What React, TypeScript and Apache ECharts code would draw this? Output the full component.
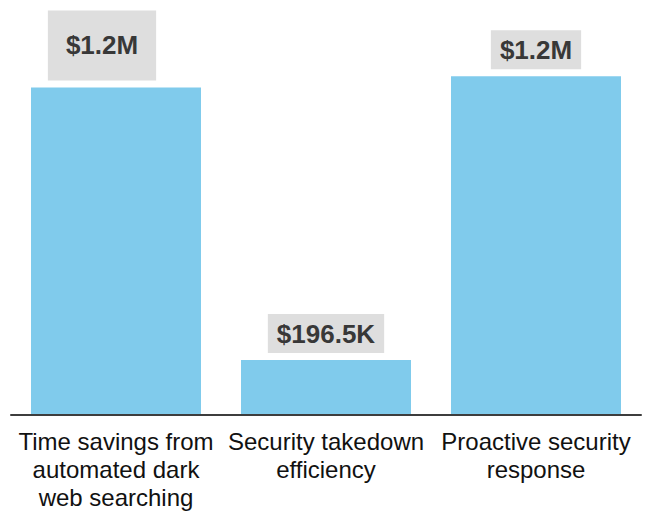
import React, { useEffect, useRef } from "react";
import * as echarts from "echarts";

const categories = [
  "Time savings from\nautomated dark\nweb searching",
  "Security takedown\nefficiency",
  "Proactive security\nresponse",
];
const values = [1170000, 196500, 1210000];
const valueLabels = ["$1.2M", "$196.5K", "$1.2M"];

const FONT = "'Liberation Sans', Arial, Helvetica, sans-serif";

export default function App() {
  const ref = useRef<HTMLDivElement>(null);
  useEffect(() => {
    if (!ref.current) return;
    const chart = echarts.init(ref.current, undefined, { renderer: "svg" });
    const data = values.map((v, i) => {
      const item: any = { value: v };
      if (i === 0) {
        item.label = { padding: [22, 18, 22, 18], offset: [-14, 0] };
      }
      return item;
    });
    chart.setOption({
      animation: false,
      backgroundColor: "#ffffff",
      grid: { left: 11, right: 8, top: 23, bottom: 97, containLabel: false },
      xAxis: {
        type: "category",
        data: categories,
        z: 10,
        axisLine: { show: true, lineStyle: { color: "#3d3d3d", width: 2 } },
        axisTick: { show: false },
        axisLabel: {
          interval: 0,
          margin: 12,
          color: "#111111",
          fontFamily: FONT,
          fontSize: 24,
          lineHeight: 28,
        },
      },
      yAxis: {
        type: "value",
        min: 0,
        max: 1400000,
        show: false,
        splitLine: { show: false },
      },
      series: [
        {
          type: "bar",
          data,
          barWidth: 170,
          itemStyle: { color: "#80cbec" },
          label: {
            show: true,
            position: "top",
            distance: 7,
            formatter: (p: any) => valueLabels[p.dataIndex],
            color: "#383838",
            fontFamily: FONT,
            fontWeight: "bold",
            fontSize: 26,
            lineHeight: 26,
            backgroundColor: "#dedede",
            padding: [7, 9, 6, 9],
          },
        },
      ],
    });
    return () => chart.dispose();
  }, []);
  return <div ref={ref} style={{ width: 649, height: 512, position: "absolute", left: 0, top: 0 }} />;
}
